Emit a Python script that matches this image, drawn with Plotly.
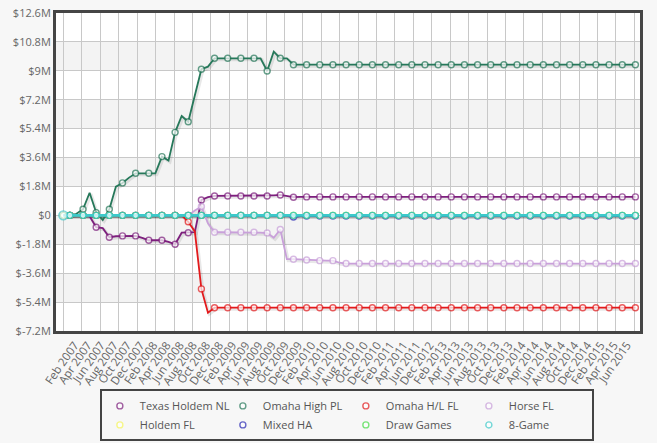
import plotly.graph_objects as go

# ---------------- data ----------------
X_LABELS = ["Feb 2007", "Apr 2007", "Jun 2007", "Aug 2007", "Oct 2007", "Dec 2007",
            "Feb 2008", "Apr 2008", "Jun 2008", "Aug 2008", "Oct 2008", "Dec 2008",
            "Feb 2009", "Apr 2009", "Jun 2009", "Aug 2009", "Oct 2009", "Dec 2009",
            "Feb 2010", "Apr 2010", "Jun 2010", "Aug 2010", "Oct 2010", "Dec 2010",
            "Feb 2011", "Apr 2011", "Jun 2011", "Dec 2012", "Feb 2013", "Apr 2013",
            "Jun 2013", "Aug 2013", "Oct 2013", "Dec 2013", "Feb 2014", "Apr 2014",
            "Jun 2014", "Aug 2014", "Oct 2014", "Dec 2014", "Feb 2015", "Apr 2015",
            "Jun 2015"]
LABEL_IDX = [2 * k + 1 for k in range(len(X_LABELS))]

N_POINTS = 88
IDX = list(range(N_POINTS))
MARKER_IDX = [0] + list(range(1, N_POINTS, 2))

# values in $M, one per data point
texas_nl = ([0, 0, 0, 0, -0.05, -0.74, -0.80, -1.36, -1.30, -1.28, -1.28, -1.28, -1.40,
             -1.55, -1.55, -1.55, -1.65, -1.80, -1.08, -1.08, -1.05, 0.96, 1.13, 1.21,
             1.21, 1.21, 1.21, 1.21, 1.21, 1.21, 1.21, 1.21, 1.25, 1.27, 1.20, 1.13]
            + [1.15] * 52)
omaha_high_pl = ([0, 0, 0.10, 0.38, 1.41, 0.17, -0.29, 0.38, 1.79, 2.02, 2.35, 2.62, 2.62,
                  2.62, 2.62, 3.66, 3.41, 5.17, 6.19, 5.83, 7.45, 9.10, 9.26, 9.78, 9.78,
                  9.78, 9.78, 9.78, 9.78, 9.78, 9.78, 8.99, 10.19, 9.78, 9.78, 9.38]
                 + [9.38] * 52)
omaha_hl_fl = ([0] * 19 + [-0.40, -1.00, -4.58, -6.06] + [-5.75] * 65)
horse_fl = ([0] * 19 + [0.0, 0.30, 0.55, -0.49, -1.05, -1.05, -1.05, -1.05, -1.05, -1.05,
                        -1.05, -1.08, -1.10, -1.40, -0.88, -2.73, -2.73, -2.75, -2.78,
                        -2.82, -2.82, -2.82, -2.82, -2.95]
            + [-3.0] * 45)
holdem_fl = [0] * N_POINTS
mixed_ha = [0] * 34 + [-0.03, -0.10] + [-0.04] * 52
draw_games = [0] * N_POINTS
eight_game = [0] * N_POINTS

SERIES = [
    ("Texas Holdem NL", texas_nl, "#7d1f7d"),
    ("Omaha High PL", omaha_high_pl, "#26785a"),
    ("Omaha H/L FL", omaha_hl_fl, "#e31a1c"),
    ("Horse FL", horse_fl, "#c9a0da"),
    ("Holdem FL", holdem_fl, "#f6f65a"),
    ("Mixed HA", mixed_ha, "#2a2ab4"),
    ("Draw Games", draw_games, "#44dd44"),
    ("8-Game", eight_game, "#3ccaca"),
]

Y_TICKS = [-7.2, -5.4, -3.6, -1.8, 0, 1.8, 3.6, 5.4, 7.2, 9, 10.8, 12.6]
Y_LABELS = ["$-7.2M", "$-5.4M", "$-3.6M", "$-1.8M", "$0", "$1.8M", "$3.6M", "$5.4M",
            "$7.2M", "$9M", "$10.8M", "$12.6M"]

# ---------------- figure ----------------
FONT = "Open Sans, DejaVu Sans, sans-serif"
W, H = 657, 443
ML, MR, MT, MB = 56, 17, 13, 112
X_RANGE = [-1.11, 87.7]
Y_RANGE = [Y_TICKS[0], Y_TICKS[-1]]
LABEL_SHIFT = 0.7  # rotated labels sit a little right of their point (as in the original)
SHADOW_PX = 1.4  # drop-shadow offset (pixels), drawn through a shifted hidden axis pair
dx = SHADOW_PX * (X_RANGE[1] - X_RANGE[0]) / (W - ML - MR)
dy = SHADOW_PX * (Y_RANGE[1] - Y_RANGE[0]) / (H - MT - MB)

fig = go.Figure()

# shadows on the hidden base axes (drawn first, underneath)
for name, vals, color in SERIES:
    fig.add_trace(go.Scatter(
        x=IDX, y=vals, mode="lines", xaxis="x", yaxis="y",
        line=dict(color="rgba(0,0,0,0.09)", width=3.2),
        showlegend=False, hoverinfo="skip"))

# visible series on the overlay axes
for name, vals, color in SERIES:
    lw = 2.6 if name == "8-Game" else 1.8
    fig.add_trace(go.Scatter(
        x=IDX, y=vals, mode="lines", xaxis="x2", yaxis="y2",
        line=dict(color=color, width=lw),
        showlegend=False, legendgroup=name, hoverinfo="skip"))
    mx = MARKER_IDX
    sizes = [9 if (i == 0 and name == "8-Game") else 6 for i in mx]
    fig.add_trace(go.Scatter(
        x=mx, y=[vals[i] for i in mx], mode="markers", name=name, legendgroup=name,
        xaxis="x2", yaxis="y2",
        marker=dict(symbol="circle", size=sizes, color="white",
                    line=dict(color=color, width=1.4))))

# alternating horizontal bands
shapes = []
for j in range(len(Y_TICKS) - 1):
    if j % 2 == 1:
        shapes.append(dict(type="rect", xref="paper", yref="y2", x0=0, x1=1,
                           y0=Y_TICKS[j], y1=Y_TICKS[j + 1], fillcolor="#f3f3f3",
                           line=dict(width=0), layer="below"))

fig.update_layout(
    width=W, height=H,
    margin=dict(l=ML, r=MR, t=MT, b=MB, autoexpand=False),
    paper_bgcolor="#f7f7f7", plot_bgcolor="white",
    font=dict(family=FONT, size=11, color="#666666"),
    shapes=shapes,
    showlegend=True,
    legend=dict(orientation="h", xref="container", yref="container",
                x=0.152, xanchor="left", y=0.121, yanchor="top",
                entrywidth=78, entrywidthmode="pixels", itemwidth=30,
                bordercolor="#444444", borderwidth=2, bgcolor="rgba(0,0,0,0)",
                font=dict(family=FONT, size=11, color="#555555"), tracegroupgap=0),
    xaxis=dict(range=[X_RANGE[0] - dx, X_RANGE[1] - dx], visible=False,
               showgrid=False, zeroline=False, automargin=False),
    yaxis=dict(range=[Y_RANGE[0] + dy, Y_RANGE[1] + dy], visible=False,
               showgrid=False, zeroline=False, automargin=False),
    xaxis2=dict(overlaying="x", anchor="y2", side="bottom",
                range=X_RANGE, tickmode="array",
                tickvals=[v + LABEL_SHIFT for v in LABEL_IDX],
                ticktext=X_LABELS, tickangle=-55, showgrid=False, zeroline=False,
                ticks="", showline=True, mirror=True, linecolor="#454545", linewidth=3,
                automargin=False, tickfont=dict(size=11.5, color="#666666"),
                minor=dict(tickmode="linear", tick0=2.84, dtick=2.8, showgrid=True,
                           gridcolor="#c8c8c8", gridwidth=1, ticks="")),
    yaxis2=dict(overlaying="y", anchor="x2", side="left",
                range=Y_RANGE, tickmode="array", tickvals=Y_TICKS, ticktext=Y_LABELS,
                showgrid=True, gridcolor="#c8c8c8", gridwidth=1, zeroline=False,
                ticks="", showline=True, mirror=True, linecolor="#454545", linewidth=3,
                automargin=False, tickfont=dict(size=11, color="#666666")),
)

fig.write_html("out.html", config={"displayModeBar": False},
               post_script="document.body.style.margin='0';"
                           "document.body.style.background='#f7f7f7';")
